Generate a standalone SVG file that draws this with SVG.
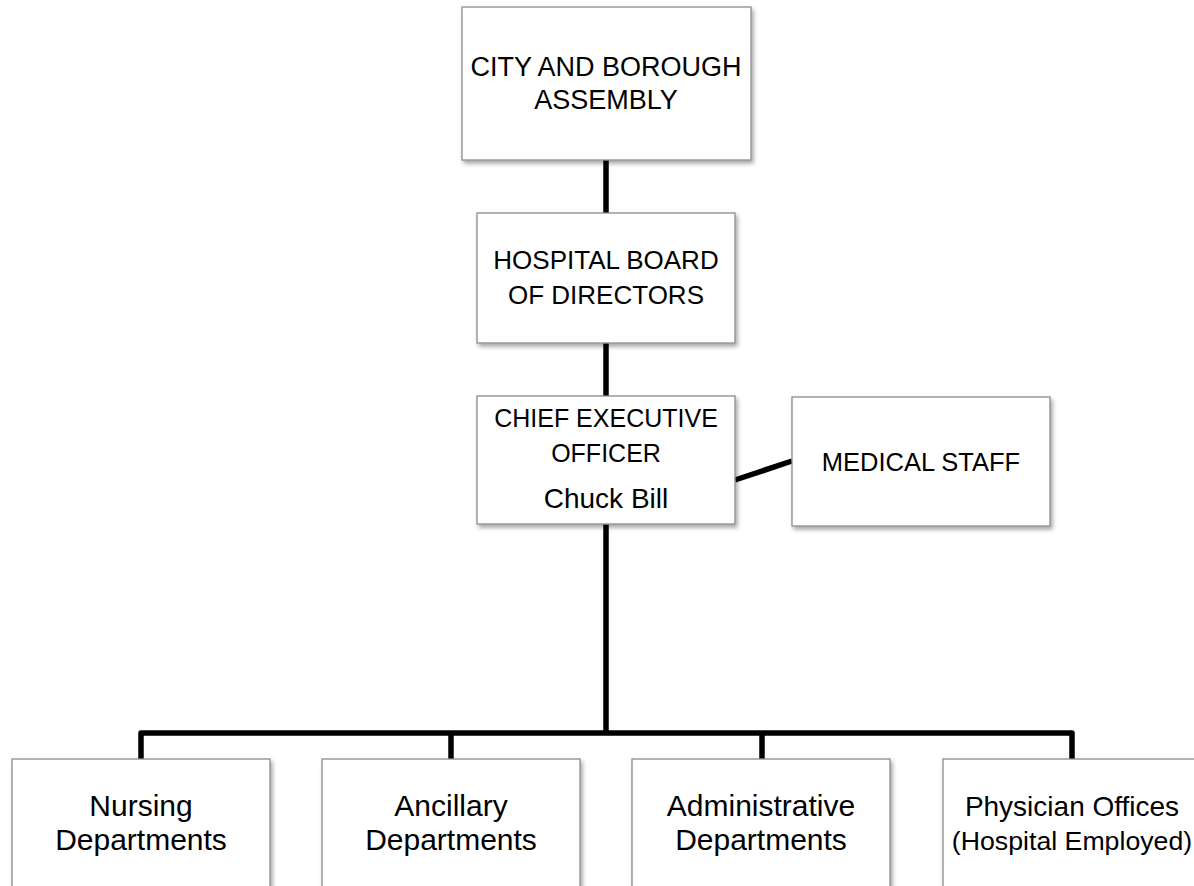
<svg xmlns="http://www.w3.org/2000/svg" width="1194" height="886" viewBox="0 0 1194 886">
<style>
.box{fill:#ffffff;stroke:#8c8c8c;stroke-width:1.3;filter:url(#sh)}
.t{font-family:"Liberation Sans",Arial,sans-serif;fill:#000;text-anchor:middle}
.c{fill:none;stroke:#000;stroke-width:5.5;stroke-linejoin:round}
</style>
<defs>
<filter id="sh" x="-5%" y="-5%" width="115%" height="120%">
<feDropShadow dx="2" dy="3" stdDeviation="2" flood-color="#000" flood-opacity="0.35"/>
</filter>
</defs>
<rect width="1194" height="886" fill="#ffffff"/>
<g id="connectors">
<path class="c" d="M606 160 V213"/>
<path class="c" d="M606 343 V396"/>
<path class="c" d="M735 480 L792 461"/>
<path class="c" d="M606 524 V733"/>
<path class="c" d="M141 759 V733 H1072 V759"/>
<path class="c" d="M451 733 V759"/>
<path class="c" d="M762 733 V759"/>
</g>
<g id="assembly">
<rect class="box" x="462" y="7" width="289" height="153"/>
<text class="t" x="606" y="76" font-size="27">CITY AND BOROUGH</text>
<text class="t" x="606" y="109" font-size="27">ASSEMBLY</text>
</g>
<g id="board">
<rect class="box" x="477" y="213" width="258" height="130"/>
<text class="t" x="606" y="269" font-size="26">HOSPITAL BOARD</text>
<text class="t" x="606" y="304" font-size="26">OF DIRECTORS</text>
</g>
<g id="ceo">
<rect class="box" x="477" y="396" width="258" height="128"/>
<text class="t" x="606" y="427" font-size="25">CHIEF EXECUTIVE</text>
<text class="t" x="606" y="462" font-size="25">OFFICER</text>
<text class="t" x="606" y="508" font-size="28">Chuck Bill</text>
</g>
<g id="medical">
<rect class="box" x="792" y="397" width="258" height="129"/>
<text class="t" x="921" y="471" font-size="25.5">MEDICAL STAFF</text>
</g>
<g id="nursing">
<rect class="box" x="12" y="759" width="258" height="140"/>
<text class="t" x="141" y="816" font-size="30">Nursing</text>
<text class="t" x="141" y="850" font-size="30">Departments</text>
</g>
<g id="ancillary">
<rect class="box" x="322" y="759" width="258" height="140"/>
<text class="t" x="451" y="816" font-size="30">Ancillary</text>
<text class="t" x="451" y="850" font-size="30">Departments</text>
</g>
<g id="administrative">
<rect class="box" x="632" y="759" width="258" height="140"/>
<text class="t" x="761" y="816" font-size="30">Administrative</text>
<text class="t" x="761" y="850" font-size="30">Departments</text>
</g>
<g id="physician">
<rect class="box" x="943" y="759" width="262" height="140"/>
<text class="t" x="1072" y="816" font-size="28">Physician Offices</text>
<text class="t" x="1072" y="850" font-size="26.7">(Hospital Employed)</text>
</g>
</svg>
